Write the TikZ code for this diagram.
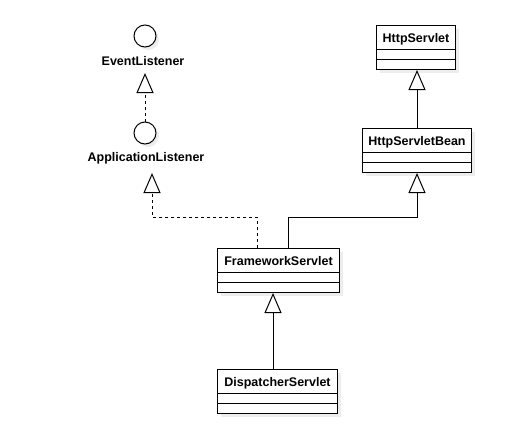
\documentclass[tikz,border=0pt]{standalone}
\usepackage{fontspec}
\setmainfont{Liberation Sans}
\usetikzlibrary{arrows.meta,shadows}
\tikzset{
  shad/.style={drop shadow={shadow xshift=3pt, shadow yshift=-3pt, fill=black!7, opacity=1}},
  cbox/.style={draw=black, fill=white, line width=1pt, inner sep=0pt, shad},
  sep/.style={draw=black, line width=1pt},
  cir/.style={circle, draw=black, fill=white, line width=1pt, minimum size=22pt, inner sep=0pt, shad},
  lbl/.style={font=\fontsize{12.5}{15}\selectfont\bfseries, inner sep=0pt},
  gen/.style={-{Triangle[open,width=17pt,length=20pt]}, line width=1pt, draw=black},
  real/.style={gen, dash pattern=on 3pt off 3pt}
}
\newcommand{\umlclass}[5]{%
  \node[cbox, anchor=north west, minimum width=#4pt, minimum height=44pt] (#1) at (#2,#3) {};
  \draw[sep] ([yshift=-24pt]#1.north west) -- ([yshift=-24pt]#1.north east);
  \draw[sep] ([yshift=-34pt]#1.north west) -- ([yshift=-34pt]#1.north east);
  \node[lbl, anchor=base] (#1-t) at ([yshift=-17pt]#1.north) {#5};
}
\begin{document}
\begin{tikzpicture}[x=1pt,y=-1pt]
\useasboundingbox (0,0) rectangle (532,426);
\umlclass{hs}{376}{25}{79}{HttpServlet}
\umlclass{hsb}{362}{128}{109}{HttpServletBean}
\umlclass{fs}{217}{248}{122}{FrameworkServlet}
\umlclass{ds}{217}{369}{120}{DispatcherServlet}
\node[cir] (el) at (145,36) {};
\node[cir] (al) at (145,133) {};
\node[lbl, anchor=base] (el-t) at (143,65) {EventListener};
\node[lbl, anchor=base] (al-t) at (146,161) {ApplicationListener};
\coordinate (el-in) at (145,73);
\coordinate (al-in) at (152,173);
\draw[real] (al.north) -- (el-in);
\draw[real] ([xshift=40pt]fs.north west) -- ++(0,-31) -| (al-in);
\draw[gen] ([xshift=71pt]fs.north west) -- ++(0,-31) -| (hsb.south);
\draw[gen] (hsb.north) -- (hsb.north |- hs.south);
\draw[gen] ([xshift=56pt]ds.north west) -- ([xshift=56pt]ds.north west |- fs.south);
\end{tikzpicture}
\end{document}
